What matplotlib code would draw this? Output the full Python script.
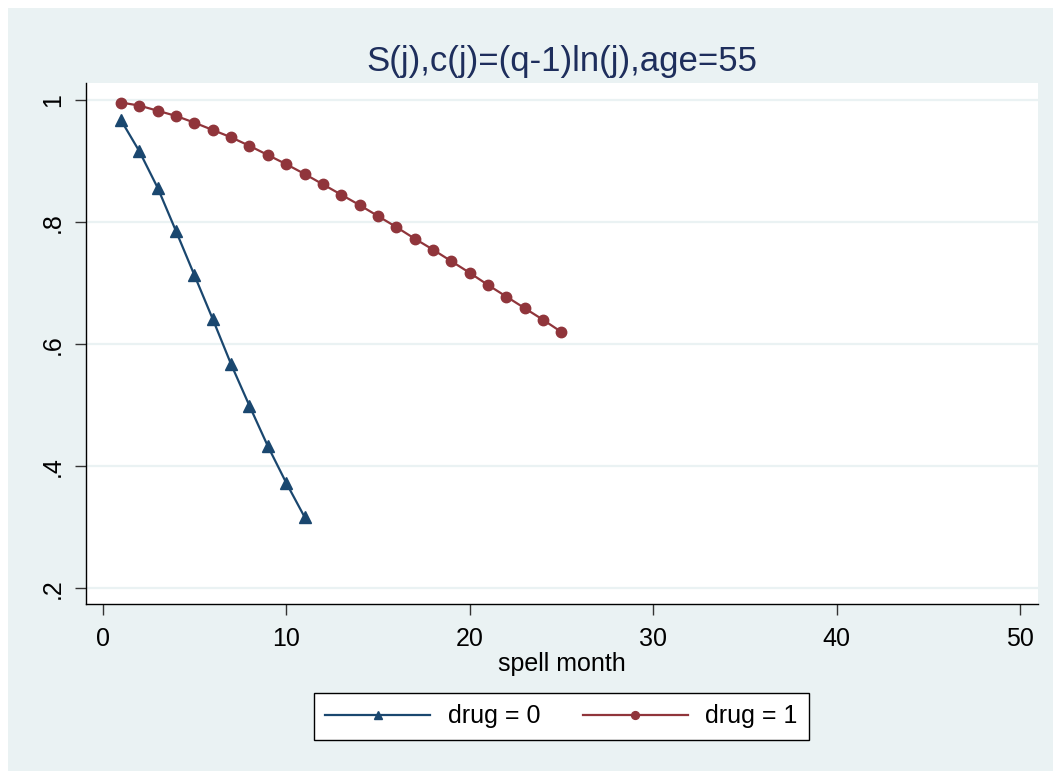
import matplotlib
matplotlib.use("Agg")
import matplotlib.pyplot as plt
from matplotlib.patches import Rectangle

plt.rcParams['font.family'] = ['Liberation Sans', 'DejaVu Sans']

months0 = [1, 2, 3, 4, 5, 6, 7, 8, 9, 10, 11]
surv0 = [0.967, 0.916, 0.856, 0.785, 0.713, 0.641, 0.567, 0.499, 0.433, 0.373, 0.317]
months1 = list(range(1, 26))
surv1 = [0.996, 0.991, 0.9825, 0.974, 0.963, 0.951, 0.939, 0.925, 0.910, 0.895,
         0.879, 0.862, 0.845, 0.828, 0.810, 0.792, 0.773, 0.755, 0.736, 0.717,
         0.697, 0.678, 0.659, 0.640, 0.620]
xticks = [0, 10, 20, 30, 40, 50]
yticks = [0.2, 0.4, 0.6, 0.8, 1.0]
ytick_labels = ['.2', '.4', '.6', '.8', '1']

W, H = 1053, 771
fig = plt.figure(figsize=(W / 100, H / 100), dpi=100, facecolor='white')
bg = '#EAF2F3'
fig.patches.append(Rectangle((8 / W, 0), 1 - 8 / W, 1 - 8 / H, transform=fig.transFigure,
                             facecolor=bg, edgecolor='none', zorder=-10))

ax = fig.add_axes([86 / W, 1 - 604.3 / H, (1037.7 - 86) / W, (604.3 - 83) / H])
ax.set_facecolor('white')
ax.set_xlim(-0.91, 50.96)
ax.set_ylim(0.1738, 1.028)

for y in yticks:
    ax.axhline(y, color=bg, lw=1.6, zorder=0)

navy = '#1A476F'
maroon = '#90353B'
ax.plot(months0, surv0, color=navy, lw=1.6, marker='^', markersize=8.5, label='drug = 0', zorder=3)
ax.plot(months1, surv1, color=maroon, lw=1.6, marker='o', markersize=7.5, label='drug = 1', zorder=3)

for s in ['top', 'right']:
    ax.spines[s].set_visible(False)
for s in ['left', 'bottom']:
    ax.spines[s].set_color('black')
    ax.spines[s].set_linewidth(1.0)

ax.set_xticks(xticks)
ax.set_xticklabels([str(t) for t in xticks])
ax.set_yticks(yticks)
ax.set_yticklabels(ytick_labels, rotation=90, va='center')
ax.tick_params(axis='both', length=8, width=1.0, color='#333333', labelsize=18, labelcolor='black')
ax.tick_params(axis='x', pad=8)
ax.tick_params(axis='y', pad=7)

ax.set_xlabel('spell month', fontsize=18, color='black', labelpad=1)
ax.set_title('S(j),c(j)=(q-1)ln(j),age=55', fontsize=25, color='#1E2E5C', pad=9)

leg = fig.legend(loc='center', bbox_to_anchor=(561.5 / W, 1 - 716.5 / H), ncol=2,
                 frameon=True, fancybox=False, edgecolor='black', facecolor='white',
                 fontsize=18, handlelength=4.2, columnspacing=1.7, handletextpad=0.7,
                 borderpad=0.45, markerscale=0.75)
leg.get_frame().set_linewidth(1.0)
leg.get_frame().set_alpha(1)

fig.savefig('out.png', dpi=100, facecolor='white')
